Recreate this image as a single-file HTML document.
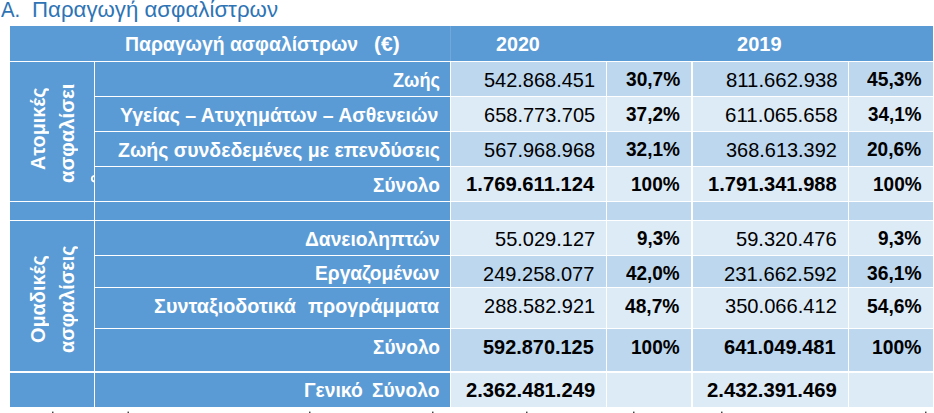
<!DOCTYPE html><html><head><meta charset="utf-8"><style>
html,body{margin:0;padding:0;background:#fff;width:934px;height:413px;overflow:hidden;position:relative}
body{font-family:"Liberation Sans",sans-serif}
.c{position:absolute}
.t{position:absolute;white-space:pre;line-height:20px;height:20px;transform-origin:0 0}
</style></head><body>

<div class="c" style="left:10px;top:26px;width:923px;height:380.8px;background:#5B9BD5"></div>
<div class="c" style="left:450px;top:61px;width:483px;height:35px;background:#BDD7EE"></div>
<div class="c" style="left:450px;top:96px;width:483px;height:35px;background:#DDEBF7"></div>
<div class="c" style="left:450px;top:131px;width:483px;height:35px;background:#BDD7EE"></div>
<div class="c" style="left:450px;top:166px;width:483px;height:35px;background:#DDEBF7"></div>
<div class="c" style="left:450px;top:201px;width:483px;height:19px;background:#BDD7EE"></div>
<div class="c" style="left:450px;top:220px;width:483px;height:35px;background:#DDEBF7"></div>
<div class="c" style="left:450px;top:255px;width:483px;height:32px;background:#BDD7EE"></div>
<div class="c" style="left:450px;top:287px;width:483px;height:41px;background:#DDEBF7"></div>
<div class="c" style="left:450px;top:328px;width:483px;height:43px;background:#BDD7EE"></div>
<div class="c" style="left:450px;top:371px;width:483px;height:35.80000000000001px;background:#DDEBF7"></div>
<div class="c" style="left:10px;top:61px;width:923px;height:1.2px;background:#fff"></div>
<div class="c" style="left:94px;top:96px;width:839px;height:1.1px;background:#fff"></div>
<div class="c" style="left:94px;top:131px;width:839px;height:1.0px;background:#fff"></div>
<div class="c" style="left:94px;top:166px;width:839px;height:1.2px;background:#fff"></div>
<div class="c" style="left:10px;top:201px;width:923px;height:1.0px;background:#fff"></div>
<div class="c" style="left:10px;top:220px;width:923px;height:1.1px;background:#fff"></div>
<div class="c" style="left:94px;top:255px;width:839px;height:1.0px;background:#fff"></div>
<div class="c" style="left:94px;top:287px;width:839px;height:1.1px;background:#fff"></div>
<div class="c" style="left:94px;top:328px;width:839px;height:1.1px;background:#fff"></div>
<div class="c" style="left:10px;top:371px;width:923px;height:1.9px;background:#fff"></div>
<div class="c" style="left:94px;top:62px;width:1.2px;height:344.8px;background:#fff"></div>
<div class="c" style="left:450px;top:62px;width:1.1px;height:344.8px;background:#fff"></div>
<div class="c" style="left:606px;top:62px;width:1.1px;height:344.8px;background:#fff"></div>
<div class="c" style="left:691.2px;top:62px;width:1.5px;height:344.8px;background:#fff"></div>
<div class="c" style="left:848px;top:62px;width:1.1px;height:344.8px;background:#fff"></div>

<div class="c" style="left:45.30px;top:170.30px;width:0;height:0;transform:rotate(-90deg);transform-origin:0 0"><div class="t" style="left:0;top:-16.93px;font-size:20px;font-weight:bold;color:#fff;transform:scaleX(0.9904)">Ατομικές</div></div>
<div class="c" style="left:74.20px;top:182.90px;width:0;height:0;transform:rotate(-90deg);transform-origin:0 0"><div class="t" style="left:0;top:-16.93px;font-size:20px;font-weight:bold;color:#fff;transform:scaleX(1.0130)">ασφαλίσει</div></div>
<div class="c" style="left:45.30px;top:343.20px;width:0;height:0;transform:rotate(-90deg);transform-origin:0 0"><div class="t" style="left:0;top:-16.93px;font-size:20px;font-weight:bold;color:#fff;transform:scaleX(0.9938)">Ομαδικές</div></div>
<div class="c" style="left:74.20px;top:352.90px;width:0;height:0;transform:rotate(-90deg);transform-origin:0 0"><div class="t" style="left:0;top:-16.93px;font-size:20px;font-weight:bold;color:#fff;transform:scaleX(0.9927)">ασφαλίσεις</div></div>
<div class="c" style="left:10px;top:62px;width:83.8px;height:139px;overflow:hidden"></div><svg class="c" style="left:0;top:0" width="934" height="413"><path d="M94.2 175 C89.8 175.3 89.8 182.2 94.2 182.4 L94.2 180.6 C92.4 180.4 92.4 177 94.2 176.8 Z" fill="#fff"/><rect x="52" y="411.6" width="1.5" height="1.4" fill="#444"/><rect x="127.5" y="411.6" width="1.5" height="1.4" fill="#444"/><rect x="309" y="411.6" width="1.5" height="1.4" fill="#444"/><rect x="432" y="411.6" width="1.5" height="1.4" fill="#444"/><rect x="526" y="411.6" width="1.5" height="1.4" fill="#444"/><rect x="633" y="411.6" width="1.5" height="1.4" fill="#444"/><rect x="721" y="411.6" width="1.5" height="1.4" fill="#444"/><rect x="925" y="411.6" width="1.5" height="1.4" fill="#444"/></svg><div class="c" style="left:450px;top:26px;width:1px;height:35px;background:rgba(255,255,255,0.13)"></div>
<div class="t" style="left:0.80px;top:-0.15px;font-size:21.5px;font-weight:normal;color:#2E74B5;transform:scaleX(0.9462)">A.</div>
<div class="t" style="left:32.47px;top:-0.15px;font-size:21.5px;font-weight:normal;color:#2E74B5;transform:scaleX(1.0338)">Παραγωγή ασφαλίστρων</div>
<div class="t" style="left:125.03px;top:34.47px;font-size:20px;font-weight:bold;color:#fff;transform:scaleX(0.9689)">Παραγωγή ασφαλίστρων</div>
<div class="t" style="left:374.45px;top:34.47px;font-size:20px;font-weight:bold;color:#fff;transform:scaleX(1.0490)">(€)</div>
<div class="t" style="left:495.80px;top:34.47px;font-size:20px;font-weight:bold;color:#fff;transform:scaleX(0.9849)">2020</div>
<div class="t" style="left:736.80px;top:34.47px;font-size:20px;font-weight:bold;color:#fff;transform:scaleX(1.0007)">2019</div>
<div class="t" style="left:393.00px;top:69.67px;font-size:20px;font-weight:bold;color:#fff;transform:scaleX(0.9079)">Ζωής</div>
<div class="t" style="left:120.00px;top:104.67px;font-size:20px;font-weight:bold;color:#fff;transform:scaleX(0.9744)">Υγείας – Ατυχημάτων – Ασθενειών</div>
<div class="t" style="left:118.00px;top:139.67px;font-size:20px;font-weight:bold;color:#fff;transform:scaleX(0.9745)">Ζωής συνδεδεμένες με επενδύσεις</div>
<div class="t" style="left:373.00px;top:174.67px;font-size:20px;font-weight:bold;color:#fff;transform:scaleX(0.9533)">Σύνολο</div>
<div class="t" style="left:305.00px;top:228.67px;font-size:20px;font-weight:bold;color:#fff;transform:scaleX(0.9616)">Δανειοληπτών</div>
<div class="t" style="left:315.24px;top:263.37px;font-size:20px;font-weight:bold;color:#fff;transform:scaleX(0.9587)">Εργαζομένων</div>
<div class="t" style="left:153.90px;top:296.17px;font-size:20px;font-weight:bold;color:#fff;transform:scaleX(0.9905)">Συνταξιοδοτικά</div>
<div class="t" style="left:372.80px;top:336.97px;font-size:20px;font-weight:bold;color:#fff;transform:scaleX(0.9562)">Σύνολο</div>
<div class="t" style="left:303.74px;top:379.97px;font-size:20px;font-weight:bold;color:#fff;transform:scaleX(0.9634)">Γενικό</div>
<div class="t" style="left:372.30px;top:379.97px;font-size:20px;font-weight:bold;color:#fff;transform:scaleX(0.9633)">Σύνολο</div>
<div class="t" style="left:307.90px;top:296.17px;font-size:20px;font-weight:bold;color:#fff;transform:scaleX(0.9841)">προγράμματα</div>
<div class="t" style="left:483.80px;top:69.82px;font-size:21px;font-weight:normal;color:#000;transform:scaleX(0.9509)">542.868.451</div>
<div class="t" style="left:483.61px;top:104.82px;font-size:21px;font-weight:normal;color:#000;transform:scaleX(0.9526)">658.773.705</div>
<div class="t" style="left:483.61px;top:139.82px;font-size:21px;font-weight:normal;color:#000;transform:scaleX(0.9526)">567.968.968</div>
<div class="t" style="left:465.94px;top:174.32px;font-size:21px;font-weight:bold;color:#000;transform:scaleX(0.9641)">1.769.611.124</div>
<div class="t" style="left:494.70px;top:228.82px;font-size:21px;font-weight:normal;color:#000;transform:scaleX(0.9529)">55.029.127</div>
<div class="t" style="left:483.45px;top:263.52px;font-size:21px;font-weight:normal;color:#000;transform:scaleX(0.9539)">249.258.077</div>
<div class="t" style="left:483.61px;top:296.32px;font-size:21px;font-weight:normal;color:#000;transform:scaleX(0.9526)">288.582.921</div>
<div class="t" style="left:483.40px;top:336.62px;font-size:21px;font-weight:bold;color:#000;transform:scaleX(0.9479)">592.870.125</div>
<div class="t" style="left:466.00px;top:379.62px;font-size:21px;font-weight:bold;color:#000;transform:scaleX(0.9617)">2.362.481.249</div>
<div class="t" style="left:626.00px;top:69.32px;font-size:21px;font-weight:bold;color:#000;transform:scaleX(0.9119)">30,7%</div>
<div class="t" style="left:626.02px;top:104.32px;font-size:21px;font-weight:bold;color:#000;transform:scaleX(0.9049)">37,2%</div>
<div class="t" style="left:626.02px;top:139.32px;font-size:21px;font-weight:bold;color:#000;transform:scaleX(0.9049)">32,1%</div>
<div class="t" style="left:631.19px;top:174.32px;font-size:21px;font-weight:bold;color:#000;transform:scaleX(0.9050)">100%</div>
<div class="t" style="left:637.10px;top:228.32px;font-size:21px;font-weight:bold;color:#000;transform:scaleX(0.8922)">9,3%</div>
<div class="t" style="left:626.10px;top:263.02px;font-size:21px;font-weight:bold;color:#000;transform:scaleX(0.9019)">42,0%</div>
<div class="t" style="left:625.40px;top:295.82px;font-size:21px;font-weight:bold;color:#000;transform:scaleX(0.9136)">48,7%</div>
<div class="t" style="left:631.20px;top:336.62px;font-size:21px;font-weight:bold;color:#000;transform:scaleX(0.9049)">100%</div>
<div class="t" style="left:725.50px;top:69.82px;font-size:21px;font-weight:normal;color:#000;transform:scaleX(0.9682)">811.662.938</div>
<div class="t" style="left:724.52px;top:104.82px;font-size:21px;font-weight:normal;color:#000;transform:scaleX(0.9767)">611.065.658</div>
<div class="t" style="left:726.20px;top:139.82px;font-size:21px;font-weight:normal;color:#000;transform:scaleX(0.9492)">368.613.392</div>
<div class="t" style="left:707.64px;top:174.32px;font-size:21px;font-weight:bold;color:#000;transform:scaleX(0.9587)">1.791.341.988</div>
<div class="t" style="left:736.30px;top:228.82px;font-size:21px;font-weight:normal;color:#000;transform:scaleX(0.9567)">59.320.476</div>
<div class="t" style="left:724.03px;top:263.52px;font-size:21px;font-weight:normal;color:#000;transform:scaleX(0.9661)">231.662.592</div>
<div class="t" style="left:725.00px;top:296.32px;font-size:21px;font-weight:normal;color:#000;transform:scaleX(0.9578)">350.066.412</div>
<div class="t" style="left:724.40px;top:336.62px;font-size:21px;font-weight:bold;color:#000;transform:scaleX(0.9564)">641.049.481</div>
<div class="t" style="left:707.40px;top:379.62px;font-size:21px;font-weight:bold;color:#000;transform:scaleX(0.9669)">2.432.391.469</div>
<div class="t" style="left:867.20px;top:69.32px;font-size:21px;font-weight:bold;color:#000;transform:scaleX(0.9153)">45,3%</div>
<div class="t" style="left:867.90px;top:104.32px;font-size:21px;font-weight:bold;color:#000;transform:scaleX(0.8969)">34,1%</div>
<div class="t" style="left:867.20px;top:139.32px;font-size:21px;font-weight:bold;color:#000;transform:scaleX(0.9086)">20,6%</div>
<div class="t" style="left:872.69px;top:174.32px;font-size:21px;font-weight:bold;color:#000;transform:scaleX(0.9050)">100%</div>
<div class="t" style="left:878.30px;top:228.32px;font-size:21px;font-weight:bold;color:#000;transform:scaleX(0.9026)">9,3%</div>
<div class="t" style="left:866.90px;top:263.02px;font-size:21px;font-weight:bold;color:#000;transform:scaleX(0.9170)">36,1%</div>
<div class="t" style="left:866.90px;top:295.82px;font-size:21px;font-weight:bold;color:#000;transform:scaleX(0.9170)">54,6%</div>
<div class="t" style="left:872.18px;top:336.62px;font-size:21px;font-weight:bold;color:#000;transform:scaleX(0.9182)">100%</div>
</body></html>
